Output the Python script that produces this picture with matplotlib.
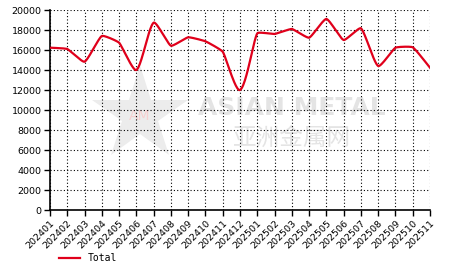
import matplotlib
matplotlib.use("Agg")
import matplotlib.pyplot as plt
import numpy as np

months = ["202401", "202402", "202403", "202404", "202405", "202406", "202407",
          "202408", "202409", "202410", "202411", "202412", "202501", "202502",
          "202503", "202504", "202505", "202506", "202507", "202508", "202509",
          "202510", "202511"]
total = [16230, 16100, 14830, 17400, 16730, 14000, 18730, 16430, 17270, 16870,
         15830, 12000, 17670, 17600, 18100, 17230, 19100, 17000, 18170, 14400,
         16230, 16270, 14230]


def smooth(x, y, sx, sy, f=0.12, n=24):
    # bezier through the points with short handles (drawn in pixel-like units)
    P = np.column_stack([np.asarray(x, float) * sx, np.asarray(y, float) * sy])
    d = np.zeros_like(P)
    d[1:-1] = P[2:] - P[:-2]
    d[0] = P[1] - P[0]
    d[-1] = P[-1] - P[-2]
    d /= np.linalg.norm(d, axis=1)[:, None]
    t = np.linspace(0, 1, n, endpoint=False)[:, None]
    pts = []
    for i in range(len(P) - 1):
        L = np.linalg.norm(P[i + 1] - P[i])
        c1 = P[i] + f * L * d[i]
        c2 = P[i + 1] - f * L * d[i + 1]
        b = ((1 - t)**3 * P[i] + 3 * (1 - t)**2 * t * c1
             + 3 * (1 - t) * t**2 * c2 + t**3 * P[i + 1])
        pts.append(b)
    pts.append(P[-1:])
    pts = np.vstack(pts)
    return pts[:, 0] / sx, pts[:, 1] / sy


fig = plt.figure(figsize=(4.66, 2.72), dpi=100)
ax = fig.add_axes([50 / 466, 62 / 272, 380 / 466, 200 / 272])

# watermark
ax.plot([0.237], [0.475], marker="*", markersize=72, color="#ececec",
        markeredgewidth=0, transform=ax.transAxes, zorder=0)
ax.text(0.237, 0.47, "AM", transform=ax.transAxes, fontsize=10,
        color="#f7d0d0", ha="center", va="center", zorder=0)
ax.text(0.637, 0.51, "ASIAN METAL", transform=ax.transAxes, fontsize=18,
        fontweight="bold", color="#e4e4e4", ha="center", va="center", zorder=0)
ax.text(0.637, 0.36, "亚洲金属网", transform=ax.transAxes, fontsize=17,
        family=["Noto Sans CJK SC", "DejaVu Sans"], color="#e4e4e4",
        ha="center", va="center", zorder=0)

xi = np.arange(len(months))
lx, ly = smooth(xi, total, 380 / 22, 200 / 20000)
ax.plot(lx, ly, color="#e0001b", lw=1.6, zorder=3, label="Total")

ax.set_xlim(0, len(months) - 1)
ax.set_ylim(0, 20000)
ax.set_yticks(np.arange(0, 20001, 2000))
ax.set_xticks(xi)
ax.set_xticklabels(months, rotation=45, ha="right", rotation_mode="anchor")
ax.tick_params(labelsize=6.8, length=4, width=1, pad=2)
ax.grid(True, color="black", linestyle=(0, (1, 2)), linewidth=0.8)
for s in ["top", "right"]:
    ax.spines[s].set_visible(False)
for s in ["left", "bottom"]:
    ax.spines[s].set_linewidth(1.2)

fig.legend(loc="lower left", bbox_to_anchor=(50 / 466, 0.0), frameon=False,
           prop={"family": "DejaVu Sans Mono", "size": 7}, handlelength=2.2)

fig.savefig("out.png", dpi=100)
